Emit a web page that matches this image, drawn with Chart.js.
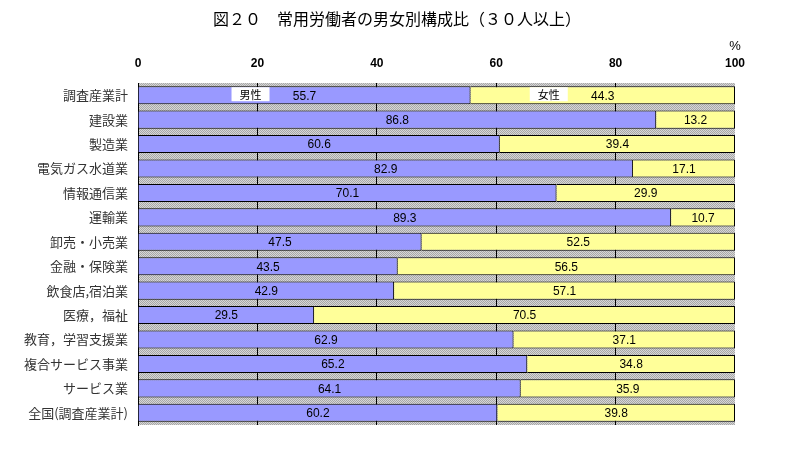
<!DOCTYPE html>
<html>
<head>
<meta charset="utf-8">
<script src="https://cdn.jsdelivr.net/npm/chart.js@4.4.0/dist/chart.umd.min.js"></script>
<style>
  html, body { margin: 0; padding: 0; background: #fff; }
  #wrap { width: 787px; height: 451px; }
</style>
</head>
<body>
<div id="wrap"><canvas id="chart" width="787" height="451"></canvas></div>
<script>
// data
const categories = ['調査産業計', '建設業', '製造業', '電気ガス水道業', '情報通信業', '運輸業', '卸売・小売業',
  '金融・保険業', '飲食店,宿泊業', '医療，福祉', '教育，学習支援業', '複合サービス事業', 'サービス業', '全国(調査産業計)'];
const male = [55.7, 86.8, 60.6, 82.9, 70.1, 89.3, 47.5, 43.5, 42.9, 29.5, 62.9, 65.2, 64.1, 60.2];
const female = [44.3, 13.2, 39.4, 17.1, 29.9, 10.7, 52.5, 56.5, 57.1, 70.5, 37.1, 34.8, 35.9, 39.8];
const seriesNames = ['男性', '女性'];
const xTicks = [0, 20, 40, 60, 80, 100];

const titleText = '図２０　常用労働者の男女別構成比（３０人以上）';
const jp = '"Noto Sans CJK JP", sans-serif';
const latin = '"Liberation Sans", Arial, sans-serif';

function grayPattern(ctx) {
  const c = document.createElement('canvas');
  c.width = 2; c.height = 2;
  const p = c.getContext('2d');
  p.fillStyle = '#d6d6d6'; p.fillRect(0, 0, 2, 2);
  p.fillStyle = '#a8a8a8'; p.fillRect(0, 0, 1, 1); p.fillRect(1, 1, 1, 1);
  return ctx.createPattern(c, 'repeat');
}

const decor = {
  id: 'decor',
  beforeDraw(chart) {
    const { ctx, chartArea: a } = chart;
    ctx.save();
    ctx.fillStyle = grayPattern(ctx);
    ctx.fillRect(a.left, a.top, a.right - a.left, a.bottom - a.top);
    ctx.restore();
  },
  afterDatasetsDraw(chart) {
    const { ctx } = chart;
    ctx.save();
    // value labels centred in each segment
    ctx.font = '12px ' + latin;
    ctx.fillStyle = '#000';
    ctx.textAlign = 'center';
    ctx.textBaseline = 'middle';
    chart.data.datasets.forEach((ds, di) => {
      chart.getDatasetMeta(di).data.forEach((bar, i) => {
        const x = (bar.base + bar.x) / 2;
        ctx.fillText(ds.data[i].toFixed(1), x, bar.y + 1);
      });
    });
    // series names in white boxes on the first bar
    ctx.font = '11px ' + jp;
    chart.data.datasets.forEach((ds, di) => {
      const bar = chart.getDatasetMeta(di).data[0];
      const cx = (bar.base + bar.x) / 2;
      const bx = cx - 72;
      ctx.fillStyle = '#fff';
      ctx.fillRect(bx - 1, bar.y - 8, 38, 14);
      ctx.fillStyle = '#000';
      ctx.fillText(seriesNames[di], bx + 18, bar.y);
    });
    ctx.restore();
  },
  afterDraw(chart) {
    const { ctx, chartArea: a } = chart;
    ctx.save();
    ctx.fillStyle = '#000';
    ctx.textBaseline = 'middle';
    ctx.textAlign = 'center';
    ctx.font = '16px ' + jp;
    ctx.fillText(titleText, 397, 19);
    ctx.font = '13px ' + latin;
    ctx.fillText('%', a.right, 46);
    ctx.restore();
  }
};

new Chart(document.getElementById('chart'), {
  type: 'bar',
  data: {
    labels: categories,
    datasets: [
      { label: seriesNames[0], data: male, backgroundColor: '#9999ff', borderColor: '#000', borderWidth: 1,
        barPercentage: 0.74, categoryPercentage: 1 },
      { label: seriesNames[1], data: female, backgroundColor: '#ffff99', borderColor: '#000', borderWidth: 1,
        barPercentage: 0.74, categoryPercentage: 1 }
    ]
  },
  options: {
    indexAxis: 'y',
    responsive: false,
    animation: false,
    devicePixelRatio: 1,
    layout: { padding: { top: 0, right: 52, bottom: 26, left: 0 } },
    plugins: { legend: { display: false }, tooltip: { enabled: false } },
    scales: {
      x: {
        position: 'top',
        stacked: true,
        min: 0, max: 100,
        afterBuildTicks: s => { s.ticks = xTicks.map(v => ({ value: v })); },
        afterFit: s => { s.height = 83; },
        ticks: { font: { family: latin, size: 12, weight: 'bold' }, color: '#000', padding: 12 },
        grid: {
          drawTicks: false,
          color: c => (c.tick && c.tick.value > 0 && c.tick.value < 100) ? '#000' : 'rgba(0,0,0,0)',
          lineWidth: 1
        },
        border: { display: false }
      },
      y: {
        stacked: true,
        afterFit: s => { s.width = 138; },
        ticks: { font: { family: jp, size: 13 }, color: '#333', padding: 10 },
        grid: { display: false, drawTicks: false },
        border: { display: true, color: '#000', width: 1 }
      }
    }
  },
  plugins: [decor]
});
</script>
</body>
</html>
